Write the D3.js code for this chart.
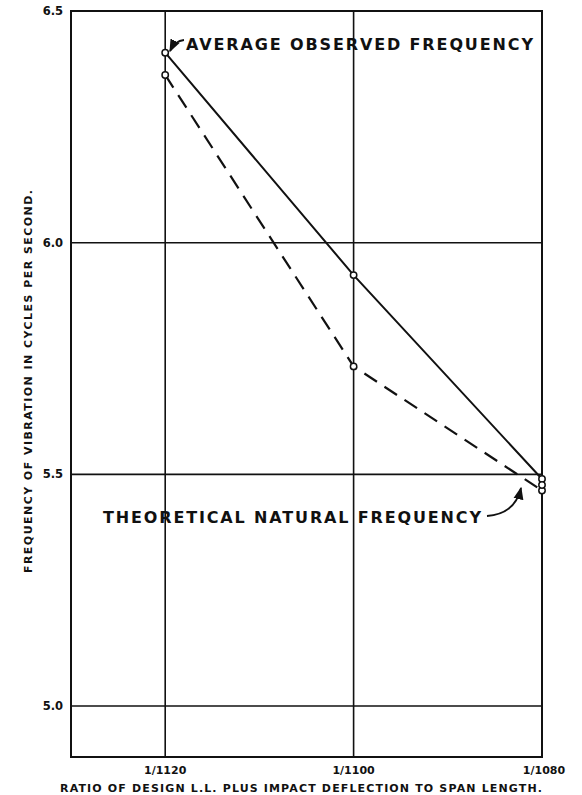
<!DOCTYPE html>
<html>
<head>
<meta charset="utf-8">
<script src="https://cdn.jsdelivr.net/npm/d3@7"></script>
<style>
  body { margin: 0; background: #fff; }
  text { font-family: "DejaVu Sans", sans-serif; fill: #111; }
</style>
</head>
<body>
<svg id="chart"></svg>
<script>
// --- DATOS ---
const denominadores = [1120, 1100, 1080];
const etiquetasX = ["1/1120", "1/1100", "1/1080"];
const observada = [6.41, 5.93, 5.49];
const teorica = [6.362, 5.733, 5.465];
const extraPuntos = [5.477]; // tercer circulo en 1/1080
const ticksY = [5.0, 5.5, 6.0, 6.5];

const width = 582, height = 795;
const svg = d3.select("#chart").attr("width", width).attr("height", height);

const x = d3.scaleLinear().domain([1130, 1080]).range([71, 542]);
const y = d3.scaleLinear().domain([4.89, 6.5]).range([757, 11]);

// --- REJILLA ---
svg.append("g")
  .selectAll("line")
  .data(ticksY.filter(v => v < 6.5))
  .enter().append("line")
  .attr("x1", x(1130)).attr("x2", x(1080))
  .attr("y1", d => y(d)).attr("y2", d => y(d))
  .attr("stroke", "#111").attr("stroke-width", 1.6);

svg.append("g")
  .selectAll("line")
  .data(denominadores)
  .enter().append("line")
  .attr("x1", d => x(d)).attr("x2", d => x(d))
  .attr("y1", y(6.5)).attr("y2", y(4.89))
  .attr("stroke", "#111").attr("stroke-width", 1.6);

// marco
svg.append("rect")
  .attr("x", x(1130)).attr("y", y(6.5))
  .attr("width", x(1080) - x(1130)).attr("height", y(4.89) - y(6.5))
  .attr("fill", "none").attr("stroke", "#111").attr("stroke-width", 2);

// --- EJES ---
svg.append("g")
  .selectAll("text")
  .data(ticksY)
  .enter().append("text")
  .attr("x", 63).attr("y", d => y(d) + 4)
  .attr("text-anchor", "end")
  .attr("font-size", 11.5).attr("font-weight", "bold")
  .text(d => d.toFixed(1));

svg.append("g")
  .selectAll("text")
  .data(denominadores)
  .enter().append("text")
  .attr("x", (d, i) => x(d) + (i === 2 ? 2 : 0)).attr("y", 774)
  .attr("text-anchor", "middle")
  .attr("font-size", 11).attr("font-weight", "bold")
  .text((d, i) => etiquetasX[i]);

svg.append("text")
  .attr("x", 60).attr("y", 792)
  .attr("font-size", 11).attr("font-weight", "bold")
  .attr("textLength", 482).attr("lengthAdjust", "spacing")
  .text("RATIO OF DESIGN L.L. PLUS IMPACT DEFLECTION TO SPAN LENGTH.");

svg.append("text")
  .attr("transform", "translate(32,573) rotate(-90)")
  .attr("font-size", 11).attr("font-weight", "bold")
  .attr("textLength", 383).attr("lengthAdjust", "spacing")
  .text("FREQUENCY OF VIBRATION IN CYCLES PER SECOND.");

// --- LINEAS ---
const linea = d3.line().x(d => x(d[0])).y(d => y(d[1]));

svg.append("path")
  .datum(denominadores.map((d, i) => [d, observada[i]]))
  .attr("d", linea)
  .attr("fill", "none").attr("stroke", "#111").attr("stroke-width", 2);

svg.append("path")
  .datum(denominadores.map((d, i) => [d, teorica[i]]))
  .attr("d", linea)
  .attr("fill", "none").attr("stroke", "#111").attr("stroke-width", 2.2)
  .attr("stroke-dasharray", "15,9");

const puntos = [];
denominadores.forEach((d, i) => {
  puntos.push([d, observada[i]]);
  puntos.push([d, teorica[i]]);
});
extraPuntos.forEach(v => puntos.push([1080, v]));

svg.append("g")
  .selectAll("circle")
  .data(puntos)
  .enter().append("circle")
  .attr("cx", d => x(d[0])).attr("cy", d => y(d[1]))
  .attr("r", 3.2)
  .attr("fill", "#fff").attr("stroke", "#111").attr("stroke-width", 1.5);

// --- ROTULOS ---
svg.append("defs").append("marker")
  .attr("id", "flecha")
  .attr("viewBox", "0 0 10 10")
  .attr("refX", 9).attr("refY", 5)
  .attr("markerWidth", 7).attr("markerHeight", 7)
  .attr("orient", "auto")
  .append("path").attr("d", "M0,1 L10,5 L0,9 Z").attr("fill", "#111");

svg.append("text")
  .attr("x", 186).attr("y", 50)
  .attr("font-size", 16).attr("font-weight", "bold")
  .attr("textLength", 347).attr("lengthAdjust", "spacing")
  .text("AVERAGE OBSERVED FREQUENCY");

svg.append("path")
  .attr("d", "M184,40 Q175,41 170,51")
  .attr("fill", "none").attr("stroke", "#111").attr("stroke-width", 1.8)
  .attr("marker-end", "url(#flecha)");

svg.append("text")
  .attr("x", 103).attr("y", 523)
  .attr("font-size", 16).attr("font-weight", "bold")
  .attr("textLength", 378).attr("lengthAdjust", "spacing")
  .text("THEORETICAL NATURAL FREQUENCY");

svg.append("path")
  .attr("d", "M487,516 Q515,514 521,488")
  .attr("fill", "none").attr("stroke", "#111").attr("stroke-width", 1.8)
  .attr("marker-end", "url(#flecha)");
</script>
</body>
</html>
